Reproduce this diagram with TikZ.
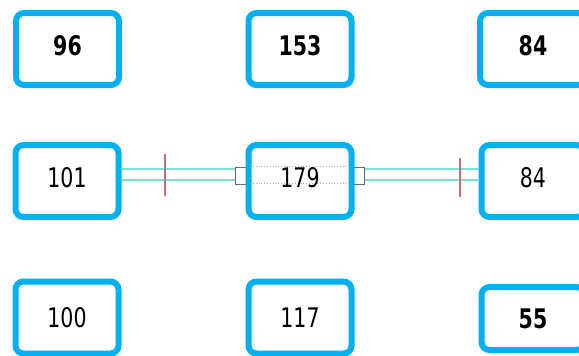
\documentclass[tikz,border=0pt]{standalone}
\usepackage{fontspec}
\newfontfamily\numfont[FakeStretch=0.76]{DejaVu Sans}
\definecolor{boxcyan}{HTML}{00B0F0}
\definecolor{linecyan}{HTML}{7FDCDC}
\definecolor{tickred}{HTML}{C07070}
\begin{document}
\begin{tikzpicture}[x=1pt,y=-1pt,
  numbox/.style={draw=boxcyan, line width=6pt, rounded corners=8pt, fill=white,
    minimum width=103pt, minimum height=72pt, inner sep=0pt,
    font=\numfont\fontsize{27}{27}\selectfont},
  boldnum/.style={font=\numfont\bfseries\fontsize{27}{27}\selectfont},
  up/.style={text depth=8pt},
  wire/.style={draw=linecyan, line width=1.3pt},
  tick/.style={draw=tickred, line width=1.3pt},
  stub/.style={draw=gray!80!black, line width=0.8pt, fill=white},
  guide/.style={draw=gray!70, dotted, line width=0.8pt}]
\useasboundingbox (0,0) rectangle (579,356);
\node[numbox, up, boldnum] (a1) at (67.5,49) {96};
\node[numbox, up, boldnum] (b1) at (300,49) {153};
\node[numbox, up, boldnum, minimum width=106pt] (c1) at (533,49) {84};
\node[numbox, up] (a2) at (67,181) {101};
\node[numbox, up] (c2) at (533,181) {84};
\node[numbox] (a3) at (67,317.5) {100};
\node[numbox] (b3) at (300,317.5) {117};
\node[numbox, boldnum, minimum height=63pt] (c3) at (533,318.5) {55};
% connectors
\draw[wire] ([yshift=12pt]a2.east) -- (246,169);
\draw[wire] ([yshift=1pt]a2.east) -- (246,180);
\draw[wire] ([yshift=12pt]c2.west) -- (354,169);
\draw[wire] ([yshift=1pt]c2.west) -- (354,180);
\draw[stub] (235,167) rectangle (247,184);
\draw[stub] (353,167) rectangle (364,184);
\draw[tick] (165,154) -- (165,196);
\draw[tick] (460,158) -- (460,197);
\node[numbox, up] (b2) at (300,181) {};
\draw[guide] (253,166) -- (347,166);
\draw[guide] (253,183) -- (347,183);
\node[font=\numfont\fontsize{27}{27}\selectfont, text depth=8pt, inner sep=0pt] (t179) at (b2.center) {179};
\end{tikzpicture}
\end{document}
